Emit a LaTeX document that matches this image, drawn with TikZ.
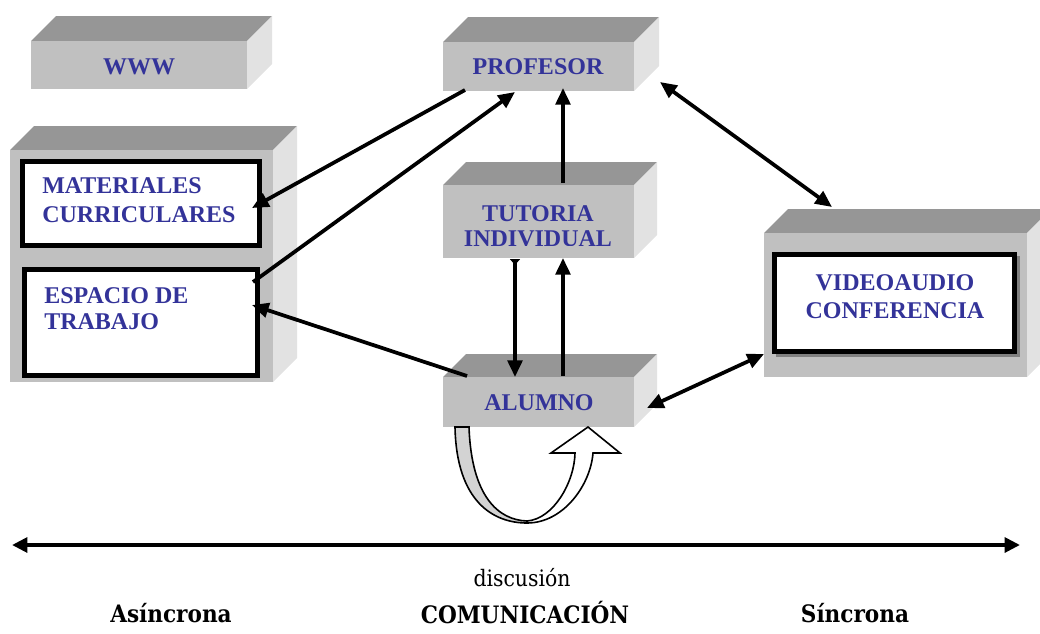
\documentclass[tikz,border=0pt]{standalone}
\usepackage{fontspec}
\setmainfont{Liberation Serif}
\newfontfamily\axisfont{DejaVu Serif Condensed}
\usetikzlibrary{fit,calc,arrows.meta}

\definecolor{frontgray}{HTML}{C0C0C0}
\definecolor{topgray}{HTML}{969696}
\definecolor{sidegray}{HTML}{E2E2E2}
\definecolor{labelblue}{HTML}{333399}
\definecolor{loopgray}{HTML}{D3D3D3}
\definecolor{shadowgray}{HTML}{808080}

\tikzset{
  frontface/.style={fill=frontgray, draw=none, inner sep=0pt, outer sep=0pt},
  panel/.style={fill=white, draw=black, line width=3.6pt, inner sep=0pt, outer sep=0pt},
  boxlabel/.style={text=labelblue, inner sep=0pt, font=\fontsize{18}{21}\selectfont\bfseries},
  tip/.style={Triangle[length=12.5pt,width=11pt]},
  flow/.style={line width=2.8pt, -{Triangle[length=12.5pt,width=11pt]}},
  twoway/.style={line width=2.8pt, {Triangle[length=12.5pt,width=11pt]}-{Triangle[length=12.5pt,width=11pt]}},
  axisarrow/.style={line width=3.3pt, {Triangle[length=11.5pt,width=11pt]}-{Triangle[length=11.5pt,width=11pt]}},
  axislabel/.style={inner sep=0pt, font=\axisfont\fontsize{18}{21}\selectfont\bfseries},
}

% 3D block: name, front-left x, front-top y, front-right x, front-bottom y, depth
\newcommand\solidblock[6]{%
  \fill[topgray] (#2,#3) -- (#2+#6,#3-#6) -- (#4+#6,#3-#6) -- (#4,#3) -- cycle;
  \fill[sidegray] (#4,#3) -- (#4+#6,#3-#6) -- (#4+#6,#5-#6) -- (#4,#5) -- cycle;
  \node[frontface, fit={(#2,#3) (#4,#5)}] (#1) {};
}

\begin{document}
\begin{tikzpicture}[x=0.75pt, y=-0.75pt]
\clip (0,0) rectangle (1040,633);

% blocks
\solidblock{www}{31}{41}{247}{89}{25}
\solidblock{prof}{443}{42}{634}{91}{25}
\solidblock{tut}{443}{185}{634}{258}{23}
\solidblock{alu}{443}{377}{634}{427}{23}
\solidblock{store}{10}{150}{273}{382}{24}
\solidblock{video}{764}{233}{1027}{377}{24}

% white panels inside the blocks
\node[panel, fit={(22.5,161.5) (259.5,245.5)}] (mat) {};
\node[panel, fit={(24.5,269.5) (257.5,375.5)}] (esp) {};
\fill[shadowgray] (776,256) rectangle (1020,357);
\node[panel, line width=3.9pt, fit={(774.5,254.5) (1014.5,351.5)}] (vconf) {};

% labels
\node[boxlabel] (wwwtext) at (139,67) {WWW};
\node[boxlabel] (proftext) at (538,67) {PROFESOR};
\begin{scope}
  \clip (443,185) rectangle (634,245);
  \node[boxlabel, align=center, font=\fontsize{18}{18.8}\selectfont\bfseries] (tuttext) at (538,226) {TUTORIA\\INDIVIDUAL};
\end{scope}
\node[boxlabel] (alutext) at (539,403) {ALUMNO};
\node[boxlabel, align=left, anchor=west, font=\fontsize{18}{21.8}\selectfont\bfseries] (mattext) at (42,200) {MATERIALES\\CURRICULARES};
\node[boxlabel, align=left, anchor=west, font=\fontsize{18}{19.5}\selectfont\bfseries] (esptext) at (44,308.5) {ESPACIO DE\\TRABAJO};
\node[boxlabel, align=center] (vtext) at (895,297) {VIDEOAUDIO\\CONFERENCIA};

% connectors between the blocks
\draw[flow] ($(prof.south west)+(22,-1)$) -- ($(mat.east)+(-7.5,4.5)$);
\draw[flow] ($(esp.north east)+(-4.5,12.5)$) -- ($(prof.south west)+(72,1)$);
\draw[flow] ($(alu.north west)+(24,-1)$) -- ($(esp.east)+(-5.5,-17.5)$);
\draw[flow] ($(tut.north)+(24.5,-2)$) -- ($(prof.south)+(24.5,-3)$);
\draw[line width=2.8pt, {Triangle[reversed,length=4.5pt,width=7.5pt]}-{Triangle[length=12.5pt,width=11pt]}]
  ($(tut.south)+(-23.5,1)$) -- ($(alu.north)+(-23.5,0)$);
\draw[flow] ($(alu.north)+(24.5,-1)$) -- ($(tut.south)+(24.5,0)$);
\draw[twoway] ($(prof.south east)+(26,-9)$) -- ($(video.north west)+(68,-26)$);
\draw[twoway] ($(alu.east)+(13,6)$) -- ($(video.south west)+(0,-23)$);

% curved self-loop under ALUMNO
\begin{scope}[shift={(alu.south)}, line width=1.2pt]
  \filldraw[fill=loopgray] (-83.5,0) .. controls (-82,75) and (-45,96) .. (-11.5,96)
    -- (-11.5,94) .. controls (-40,93) and (-67,70) .. (-69.5,0) -- cycle;
  \filldraw[fill=white, line join=miter] (-11.5,96) .. controls (25,96) and (52,58) .. (54.5,26)
    -- (81.5,26) -- (49.5,0) -- (12.5,26) -- (36.5,26)
    .. controls (36,55) and (15,92) .. (-11.5,94) -- cycle;
\end{scope}

% communication axis
\coordinate (axisL) at (12,545);
\coordinate (axisR) at (1020,545);
\draw[axisarrow] (axisL) -- (axisR);
\node[inner sep=0pt, font=\axisfont\fontsize{17}{20}\selectfont] (disc) at (522,578) {discusión};
\node[axislabel] (asin) at (171,613) {Asíncrona};
\node[axislabel] (comm) at (525,613) {COMUNICACIÓN};
\node[axislabel] (sinc) at (855,613) {Síncrona};
\end{tikzpicture}
\end{document}
